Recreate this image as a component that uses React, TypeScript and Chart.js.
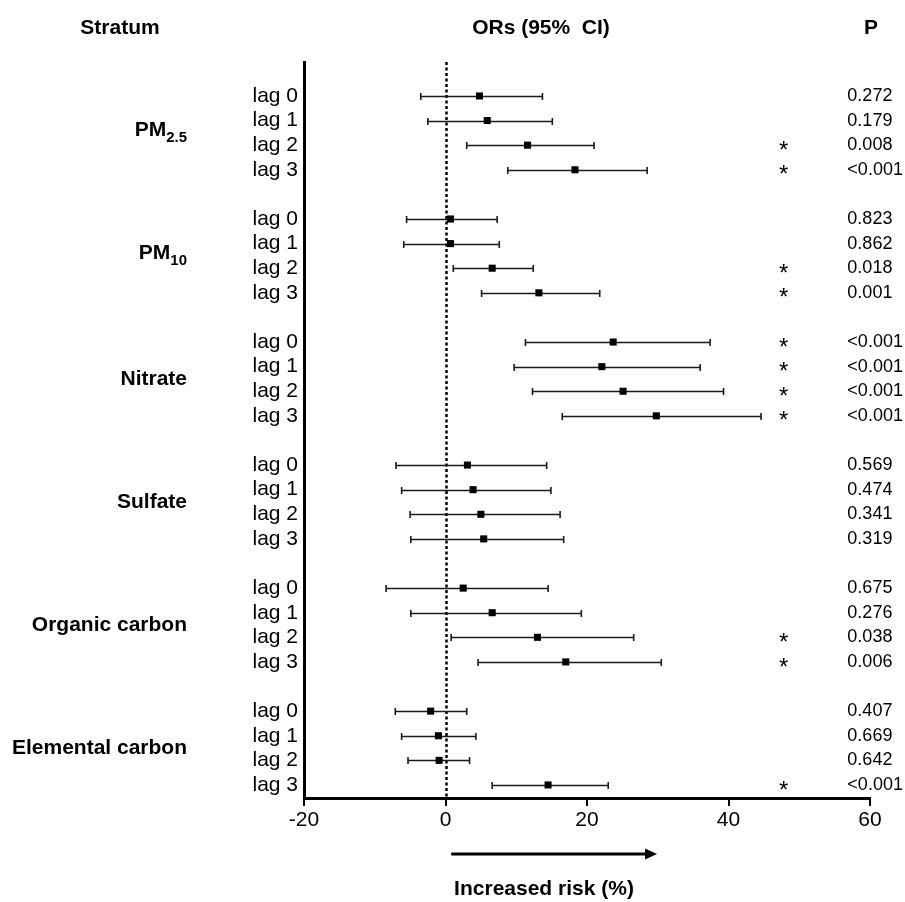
import React, { useEffect, useRef } from "react";
import { Chart, registerables } from "chart.js";

Chart.register(...registerables);

// ---- data ----
const strata = ["PM2.5", "PM10", "Nitrate", "Sulfate", "Organic carbon", "Elemental carbon"];
const lagLabels = ["lag 0", "lag 1", "lag 2", "lag 3"];
const estimates = [
  4.8, 5.9, 11.6, 18.3,
  0.7, 0.7, 6.6, 13.2,
  23.7, 22.1, 25.1, 29.8,
  3.1, 3.9, 5.0, 5.4,
  2.5, 6.6, 13.0, 17.0,
  -2.1, -1.0, -0.9, 14.5,
];
const lowerCI = [
  -3.5, -2.5, 3.0, 8.8,
  -5.5, -5.9, 1.1, 5.1,
  11.3, 9.7, 12.3, 16.5,
  -7.0, -6.2, -5.0, -4.9,
  -8.4, -4.9, 0.8, 4.6,
  -7.1, -6.2, -5.3, 6.6,
];
const upperCI = [
  13.7, 15.1, 21.0, 28.5,
  7.3, 7.6, 12.4, 21.8,
  37.4, 36.0, 39.3, 44.6,
  14.3, 14.9, 16.2, 16.7,
  14.5, 19.2, 26.6, 30.5,
  3.0, 4.3, 3.4, 23.0,
];
const pValues = [
  "0.272", "0.179", "0.008", "<0.001",
  "0.823", "0.862", "0.018", "0.001",
  "<0.001", "<0.001", "<0.001", "<0.001",
  "0.569", "0.474", "0.341", "0.319",
  "0.675", "0.276", "0.038", "0.006",
  "0.407", "0.669", "0.642", "<0.001",
];
const xTicks = [-20, 0, 20, 40, 60];

const FONT = '"Liberation Sans", Arial, sans-serif';
const rowIndex = (i: number) => Math.floor(i / 4) * 5 + (i % 4);
const rows = estimates.map((_, i) => rowIndex(i));
const isSig = (p: string) => p.startsWith("<") || parseFloat(p) < 0.05;

const annotPlugin = {
  id: "annot",
  beforeDatasetsDraw(chart: any) {
    const { ctx, scales, chartArea } = chart;
    const x = scales.x, y = scales.y;
    ctx.save();
    // zero reference line
    const x0 = Math.round(x.getPixelForValue(0)) + 0.5;
    ctx.strokeStyle = "#000";
    ctx.lineWidth = 2.5;
    ctx.setLineDash([3, 2.5]);
    ctx.beginPath();
    ctx.moveTo(x0, chartArea.top);
    ctx.lineTo(x0, chartArea.bottom);
    ctx.stroke();
    ctx.setLineDash([]);
    // whiskers
    ctx.strokeStyle = "#1a1a1a";
    ctx.lineWidth = 1.6;
    estimates.forEach((_, i) => {
      const yy = Math.round(y.getPixelForValue(rows[i])) + 0.5;
      const xl = x.getPixelForValue(lowerCI[i]);
      const xh = x.getPixelForValue(upperCI[i]);
      ctx.beginPath();
      ctx.moveTo(xl, yy);
      ctx.lineTo(xh, yy);
      ctx.moveTo(xl, yy - 3.5);
      ctx.lineTo(xl, yy + 3.5);
      ctx.moveTo(xh, yy - 3.5);
      ctx.lineTo(xh, yy + 3.5);
      ctx.stroke();
    });
    ctx.restore();
  },
  afterDraw(chart: any) {
    const { ctx, scales } = chart;
    const x = scales.x, y = scales.y;
    ctx.save();
    ctx.fillStyle = "#000";
    ctx.textBaseline = "middle";
    // headers
    ctx.font = `bold 21px ${FONT}`;
    ctx.textAlign = "center";
    ctx.fillText("Stratum", 120, 28);
    ctx.fillText("ORs (95%  CI)", 541, 28);
    ctx.fillText("P", 871, 28);
    // stratum labels
    const rightX = 187;
    strata.forEach((s, g) => {
      const yy = y.getPixelForValue(g * 5 + 1.5);
      const m = s.match(/^PM(.+)$/);
      if (m) {
        ctx.font = `bold 21px ${FONT}`;
        const w1 = ctx.measureText("PM").width;
        ctx.font = `bold 15px ${FONT}`;
        const w2 = ctx.measureText(m[1]).width;
        const left = rightX - w1 - w2;
        ctx.textAlign = "left";
        ctx.font = `bold 21px ${FONT}`;
        ctx.fillText("PM", left, yy - 3);
        ctx.font = `bold 15px ${FONT}`;
        ctx.fillText(m[1], left + w1, yy + 5);
      } else {
        ctx.font = `bold 21px ${FONT}`;
        ctx.textAlign = "right";
        ctx.fillText(s, rightX, yy);
      }
    });
    // stars and p-values
    const starX = x.getPixelForValue(47.8);
    const pX = x.getPixelForValue(56.8);
    pValues.forEach((p, i) => {
      const yy = y.getPixelForValue(rows[i]);
      if (isSig(p)) {
        ctx.font = `24px ${FONT}`;
        ctx.textAlign = "center";
        ctx.fillText("*", starX, yy + 6);
      }
      ctx.font = `18px ${FONT}`;
      ctx.textAlign = "left";
      ctx.fillText(p, pX, yy);
    });
    // arrow
    const ay = 854;
    const ax1 = x.getPixelForValue(0.8);
    const ax2 = x.getPixelForValue(29.9);
    ctx.strokeStyle = "#000";
    ctx.lineWidth = 3;
    ctx.beginPath();
    ctx.moveTo(ax1, ay);
    ctx.lineTo(ax2 - 8, ay);
    ctx.stroke();
    ctx.beginPath();
    ctx.moveTo(ax2, ay);
    ctx.lineTo(ax2 - 12, ay - 5.5);
    ctx.lineTo(ax2 - 12, ay + 5.5);
    ctx.closePath();
    ctx.fill();
    // axis title
    ctx.font = `bold 21px ${FONT}`;
    ctx.textAlign = "center";
    ctx.fillText("Increased risk (%)", 544, 889);
    ctx.restore();
  },
};

export default function App() {
  const ref = useRef<HTMLCanvasElement | null>(null);
  useEffect(() => {
    document.body.style.margin = "0";
    if (!ref.current) return;
    const chart = new Chart(ref.current, {
      type: "scatter",
      data: {
        datasets: [
          {
            data: estimates.map((v, i) => ({ x: v, y: rows[i] })),
            pointStyle: "rect",
            pointRadius: 5,
            pointHoverRadius: 5,
            backgroundColor: "#000",
            borderColor: "#000",
            borderWidth: 0,
          },
        ],
      },
      options: {
        responsive: false,
        animation: false,
        events: [],
        layout: { padding: { left: 0, top: 62, right: 35, bottom: 0 } },
        plugins: { legend: { display: false }, tooltip: { enabled: false } },
        scales: {
          x: {
            type: "linear",
            min: -20,
            max: 60,
            afterBuildTicks: (s: any) => {
              s.ticks = xTicks.map((v) => ({ value: v }));
            },
            afterFit: (s: any) => {
              s.height = 104;
            },
            ticks: {
              color: "#000",
              font: { family: FONT, size: 21 },
              padding: 2,
              maxRotation: 0,
            },
            grid: {
              display: true,
              drawOnChartArea: false,
              drawTicks: true,
              tickLength: 8,
              color: "#000",
              lineWidth: 2,
            },
            border: { display: true, color: "#000", width: 3 },
          },
          y: {
            type: "linear",
            reverse: true,
            min: -1.38,
            max: 28.53,
            afterBuildTicks: (s: any) => {
              s.ticks = rows.map((v) => ({ value: v }));
            },
            afterFit: (s: any) => {
              s.width = 304;
            },
            ticks: {
              autoSkip: false,
              color: "#000",
              font: { family: FONT, size: 21 },
              padding: 6,
              callback: (value: any) => {
                const i = rows.indexOf(Number(value));
                return i >= 0 ? lagLabels[i % 4] : "";
              },
            },
            grid: { display: true, drawOnChartArea: false, drawTicks: false, color: "#000" },
            border: { display: true, color: "#000", width: 3 },
          },
        },
      },
      plugins: [annotPlugin],
    } as any);
    return () => chart.destroy();
  }, []);
  return (
    <div style={{ position: "absolute", left: 0, top: 0, width: 905, height: 902, background: "#fff" }}>
      <canvas ref={ref} width={905} height={902} style={{ display: "block" }} />
    </div>
  );
}
